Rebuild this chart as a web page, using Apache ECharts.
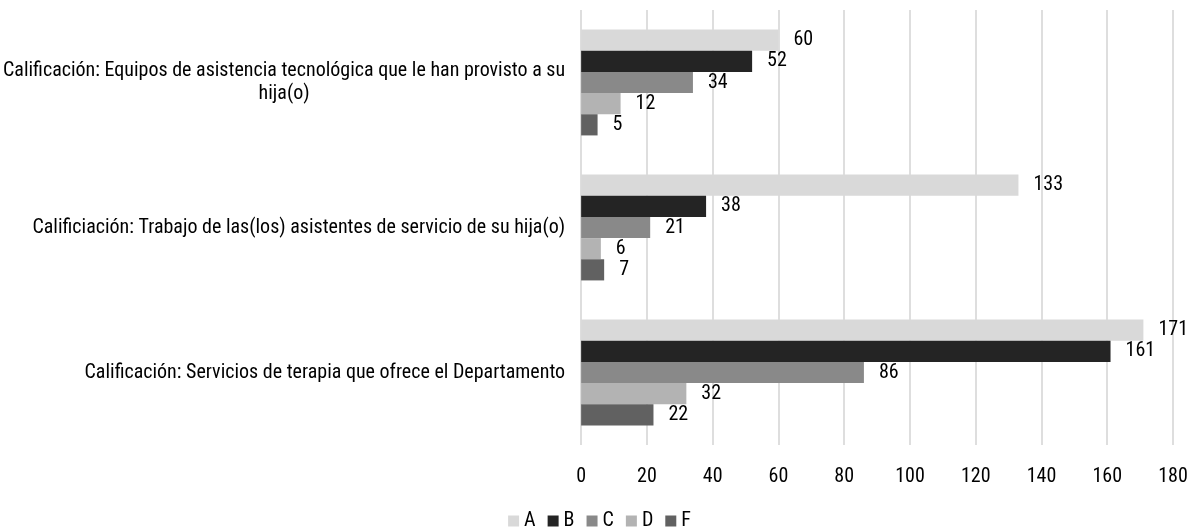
<!DOCTYPE html>
<html>
<head>
<meta charset="utf-8">
<script src="https://cdn.jsdelivr.net/npm/echarts@6/dist/echarts.min.js"></script>
<style>html,body{margin:0;padding:0;background:#fff}#c{width:1199px;height:532px}</style>
</head>
<body>
<div id="c"></div>
<script>
const categories = [
  'Calificación: Equipos de asistencia tecnológica que le han provisto a su\nhija(o)',
  'Calificiación: Trabajo de las(los) asistentes de servicio de su hija(o)',
  'Calificación: Servicios de terapia que ofrece el Departamento'
];
const seriesNames = ['A', 'B', 'C', 'D', 'F'];
const valuesA = [60, 133, 171];
const valuesB = [52, 38, 161];
const valuesC = [34, 21, 86];
const valuesD = [12, 6, 32];
const valuesF = [5, 7, 22];
const xTicks = [0, 20, 40, 60, 80, 100, 120, 140, 160, 180];

const FONT = '"Liberation Sans Narrow", "Arial Narrow", "Roboto Condensed", "Liberation Sans", sans-serif';
const colors = ['#d9d9d9', '#242424', '#898989', '#b3b3b3', '#616161'];
const allValues = [valuesA, valuesB, valuesC, valuesD, valuesF];

const chart = echarts.init(document.getElementById('c'), null, {renderer: 'canvas'});
chart.setOption({
  backgroundColor: '#fff',
  animation: false,
  color: colors,
  grid: {left: 581, right: 26, top: 10, bottom: 87},
  legend: {
    bottom: -4,
    left: 'center',
    itemWidth: 11,
    itemHeight: 11,
    itemGap: 12,
    icon: 'rect',
    textStyle: {fontFamily: FONT, fontSize: 20, color: '#000'},
    data: seriesNames
  },
  xAxis: {
    type: 'value',
    min: xTicks[0],
    max: xTicks[xTicks.length - 1],
    interval: 20,
    axisLine: {show: false},
    axisTick: {show: false},
    splitLine: {show: true, lineStyle: {color: '#dedede', width: 2}},
    axisLabel: {fontFamily: FONT, fontSize: 20, color: '#000', margin: 22}
  },
  yAxis: {
    type: 'category',
    inverse: true,
    data: categories,
    axisLine: {show: false},
    axisTick: {show: false},
    axisLabel: {
      margin: 16,
      fontFamily: FONT, fontSize: 20, color: '#000', lineHeight: 23,
      formatter: function (v) {
        const parts = v.split('\n');
        if (parts.length === 1) return v;
        return '{a|' + parts[0] + '}\n{c|' + parts[1] + '}';
      },
      rich: {
        a: {fontFamily: FONT, fontSize: 20, color: '#000', lineHeight: 23},
        c: {fontFamily: FONT, fontSize: 20, color: '#000', lineHeight: 23, align: 'center'}
      }
    }
  },
  series: seriesNames.map(function (name, i) {
    return {
      name: name,
      type: 'bar',
      data: allValues[i],
      barGap: '0%',
      barCategoryGap: '27%',
      itemStyle: {color: colors[i]},
      label: {
        show: true,
        position: 'right',
        distance: 15,
        fontFamily: FONT,
        fontSize: 20,
        color: '#000'
      }
    };
  })
});
</script>
</body>
</html>
